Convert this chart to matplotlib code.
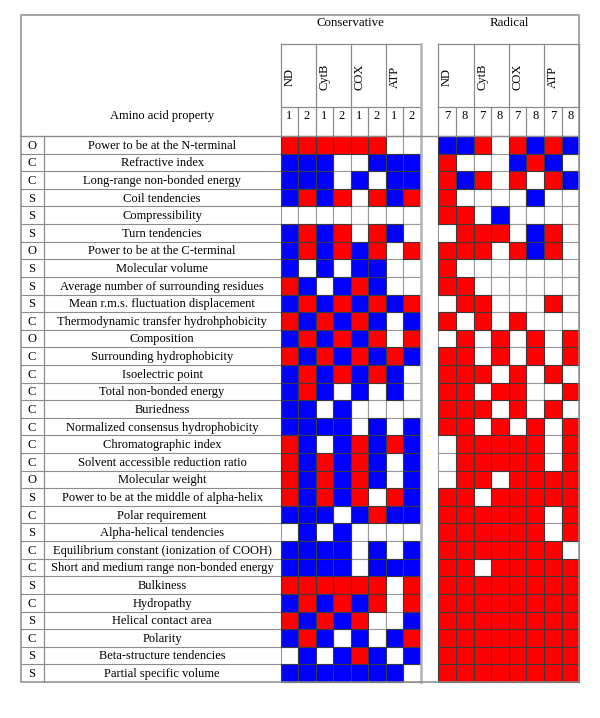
import matplotlib.pyplot as plt
from matplotlib.patches import Rectangle

plt.rcParams['font.family'] = ['Liberation Serif', 'DejaVu Serif']

# ── DATA ──────────────────────────────────────────────────────────────────
prop_class = ['O', 'C', 'C', 'S', 'S', 'S', 'O', 'S', 'S', 'S', 'C', 'O', 'C',
              'C', 'C', 'C', 'C', 'C', 'C', 'O', 'S', 'C', 'S', 'C', 'C', 'S',
              'C', 'S', 'C', 'S', 'S']
properties = [
    'Power to be at the N-terminal',
    'Refractive index',
    'Long-range non-bonded energy',
    'Coil tendencies',
    'Compressibility',
    'Turn tendencies',
    'Power to be at the C-terminal',
    'Molecular volume',
    'Average number of surrounding residues',
    'Mean r.m.s. fluctuation displacement',
    'Thermodynamic transfer hydrohphobicity',
    'Composition',
    'Surrounding hydrophobicity',
    'Isoelectric point',
    'Total non-bonded energy',
    'Buriedness',
    'Normalized consensus hydrophobicity',
    'Chromatographic index',
    'Solvent accessible reduction ratio',
    'Molecular weight',
    'Power to be at the middle of alpha-helix',
    'Polar requirement',
    'Alpha-helical tendencies',
    'Equilibrium constant (ionization of COOH)',
    'Short and medium range non-bonded energy',
    'Bulkiness',
    'Hydropathy',
    'Helical contact area',
    'Polarity',
    'Beta-structure tendencies',
    'Partial specific volume',
]
genes = ['ND', 'CytB', 'COX', 'ATP']
cons_sub = ['1', '2']
rad_sub = ['7', '8']

# R = red, B = blue, W = white ; columns ND1 ND2 CytB1 CytB2 COX1 COX2 ATP1 ATP2
conservative = [
    'RRRRRRWW', 'BBBWWBBB', 'BBBWBWBB', 'BRBRWRBR', 'WWWWWWWW', 'BRBRWRBW',
    'BRBRBRWR', 'BWBWBBWW', 'RBWBRBWW', 'BRBRBRBR', 'RBRBRBWB', 'BRBRBRWR',
    'RBRBRBRB', 'BRBRBRBW', 'BRBWBWBW', 'BBWBWWWW', 'BBBBWBWB', 'RBWBRBRB',
    'RBRBRBWB', 'RBRBRBWB', 'RBRBRWRB', 'BBBWBRBB', 'WBWBWWWW', 'BBBBWBWB',
    'BBBBWBBB', 'RRRRRRWR', 'BRBRBRWR', 'RBRBRWWB', 'BRBWBWBR', 'WBWBRBWB',
    'BBBBBBBW',
]
# columns ND7 ND8 CytB7 CytB8 COX7 COX8 ATP7 ATP8
radical = [
    'BBRWRBRB', 'RWWWBRBW', 'RBRWRWRB', 'RWWWWBWW', 'RRWBWWWW', 'WRRRWBRW',
    'RRRWRBRW', 'RWWWWWWW', 'RRWWWWWW', 'WRRWWWRW', 'RWRWRWWW', 'WRWRWRWR',
    'RRWRWRWR', 'RRRWRWRW', 'RRWRRWWR', 'RRRWRWRW', 'RRWRWRWR', 'WRRRRRWR',
    'WRRRRRWR', 'WRRWRRRR', 'RRWRRRRR', 'RRRRRRWR', 'RRRRRRWR', 'RRRRRRRW',
    'RRWRRRRR', 'RRRRRRRR', 'RRRRRRRR', 'RRRRRRRR', 'RRRRRRRR', 'RRRRRRRR',
    'RRRRRRRR',
]
colour = {'R': '#FF0000', 'B': '#0000FF', 'W': '#FFFFFF'}

# ── LAYOUT (pixel coordinates) ────────────────────────────────────────────
x_left, x_letter, x_right = 20.7, 43.5, 579.3
x_cons, w_cons = 280.7, 17.5
x_rad, w_rad = 438.3, 17.625
y_top, y_gene, y_num, y_data, y_bot = 15, 44, 107, 136, 682
n_rows = len(properties)
row_h = (y_bot - y_data) / n_rows
fs = 9.0
dy = 0.9          # nudge text down onto the row centre
grey = '#8c8c8c'

fig = plt.figure(figsize=(6, 7.18), dpi=100, facecolor='w')
ax = fig.add_axes([0, 0, 1, 1])
ax.set_xlim(0, 600)
ax.set_ylim(718, 0)
ax.axis('off')

# outer frame and header rule
ax.add_patch(Rectangle((x_left, y_top), x_right - x_left, y_bot - y_top,
                       fill=False, edgecolor=grey, lw=1.1, zorder=5))
ax.plot([x_left, x_right], [y_data, y_data], color=grey, lw=1.0, zorder=5)

# property column
ax.plot([x_letter, x_letter], [y_data, y_bot], color=grey, lw=0.9)
for i in range(n_rows):
    yc = y_data + (i + 0.5) * row_h + dy
    if i > 0:
        yl = y_data + i * row_h
        ax.plot([x_left, x_cons], [yl, yl], color=grey, lw=0.8)
    ax.text((x_left + x_letter) / 2, yc, prop_class[i], ha='center',
            va='center', fontsize=fs)
    ax.text((x_letter + x_cons) / 2, yc, properties[i], ha='center',
            va='center', fontsize=fs)
ax.text((x_letter + x_cons) / 2, 116, 'Amino acid property', ha='center',
        va='center', fontsize=fs)


def draw_block(x0, cw, data, subs, title):
    n_cols = 2 * len(genes)
    x1 = x0 + n_cols * cw
    ax.text((x0 + x1) / 2, 23, title, ha='center', va='center', fontsize=fs + 0.3)
    # header box
    ax.plot([x0, x1], [y_gene, y_gene], color=grey, lw=0.9)
    ax.plot([x0, x1], [y_num, y_num], color=grey, lw=0.9)
    for g, name in enumerate(genes):
        xg = x0 + 2 * g * cw
        ax.plot([xg, xg], [y_gene, y_data], color=grey, lw=0.9)
        ax.plot([xg + cw, xg + cw], [y_num, y_data], color=grey, lw=0.9)
        ax.text(xg + cw / 2, (y_gene + y_num) / 2 + 1, name, rotation=90,
                ha='center', va='center', fontsize=fs)
        for s, lab in enumerate(subs):
            ax.text(xg + (s + 0.5) * cw, 116, lab, ha='center', va='center',
                    fontsize=fs)
    ax.plot([x1, x1], [y_gene, y_data], color=grey, lw=0.9)
    # cells: white first, coloured on top so their dark edges win
    for layer in ('W', 'RB'):
        for i, row in enumerate(data):
            for j, c in enumerate(row):
                if c not in layer:
                    continue
                edge = '#9a9a9a' if c == 'W' else '#3a3a3a'
                ax.add_patch(Rectangle((x0 + j * cw, y_data + i * row_h), cw, row_h,
                                       facecolor=colour[c], edgecolor=edge,
                                       lw=0.8, zorder=2 if c == 'W' else 3))
    return x1


x_cons_end = draw_block(x_cons, w_cons, conservative, cons_sub, 'Conservative')
draw_block(x_rad, w_rad, radical, rad_sub, 'Radical')
# light separator between the two blocks
ax.plot([x_cons_end, x_cons_end], [y_gene, y_bot], color='#b4b4b4', lw=1.8, zorder=4)

fig.savefig('out.png', dpi=100, facecolor='w')
